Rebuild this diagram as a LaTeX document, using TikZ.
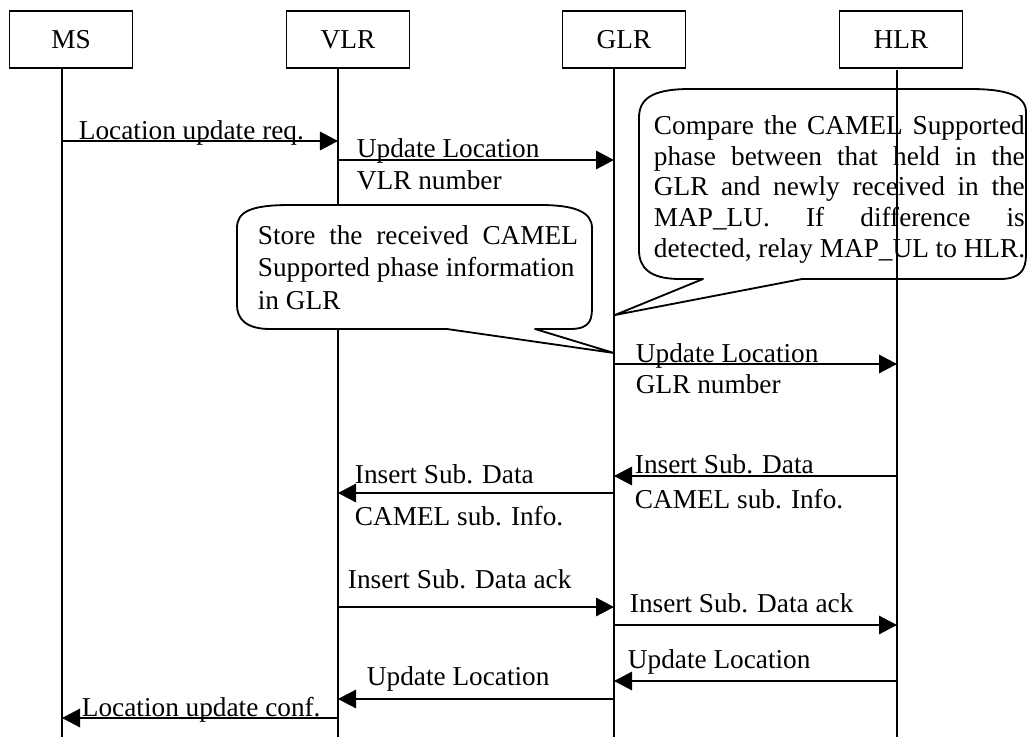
\documentclass[tikz,border=0pt]{standalone}
\usepackage{fontspec}
\setmainfont{Liberation Serif}
\usetikzlibrary{arrows.meta}
\tikzset{
    entity/.style={draw, line width=1.3pt, minimum width=3.075cm, minimum height=1.425cm, inner sep=0},
    msg/.style={line width=1.3pt, -{Triangle[length=0.45cm,width=0.46cm]}},
    lbl/.style={anchor=base west, inner sep=0},
    bubble/.style={line width=1.3pt, line join=round},
    note/.style={anchor=base west, inner sep=0, align=left}
}
\begin{document}
\begin{tikzpicture}[x=0.025cm, y=-0.025cm, line width=1.3pt,
    font=\fontsize{19.4}{21.7}\selectfont]
    \useasboundingbox (0,0) rectangle (1028,737);

    % entita
    \node[entity] (ms)  at (71,39.5)  {MS};
    \node[entity] (vlr) at (348,39.5) {VLR};
    \node[entity] (glr) at (624,39.5) {GLR};
    \node[entity] (hlr) at (901,39.5) {HLR};

    % linee di vita
    \coordinate (msx)  at (62,68);
    \coordinate (vlrx) at (338,68);
    \coordinate (glrx) at (614,68);
    \coordinate (hlrx) at (897,70);
    \draw (msx) -- (msx |- 0,737);
    \draw (vlrx) -- (vlrx |- 0,737);
    \draw (glrx) -- (glrx |- 0,737);
    \draw (hlrx) -- (hlrx |- 0,737);

    % fumetti (ancora sull'ultima riga)
    \draw[bubble] (703,279) -- (615,315) -- (802,279)
        -- (1000,279) .. controls (1020,279) and (1026,270) .. (1026,255)
        -- (1026,112) .. controls (1026,95) and (1005,89) .. (970,89)
        -- (690,89) .. controls (650,89) and (639,100) .. (639,118)
        -- (639,250) .. controls (639,268) and (650,279) .. (680,279)
        -- cycle;
    \node[note, font=\fontsize{19.4}{21.7}\selectfont] (cmp) at (653,257)
        {\makebox[9.27cm][s]{Compare the CAMEL Supported}\\
         \makebox[9.27cm][s]{phase between that held in the}\\
         \makebox[9.27cm][s]{GLR and newly received in the}\\
         \makebox[9.27cm][s]{MAP\_LU. If difference is}\\
         detected, relay MAP\_UL to HLR.};

    \draw[bubble, fill=white] (447,329) -- (614,353) -- (535,329)
        -- (570,329) .. controls (592,329) and (592,318) .. (592,305)
        -- (592,228) .. controls (592,212) and (575,205) .. (540,205)
        -- (290,205) .. controls (250,205) and (237,212) .. (237,228)
        -- (237,305) .. controls (237,318) and (245,329) .. (270,329)
        -- cycle;
    \node[note, font=\fontsize{19.4}{23.1}\selectfont] (store) at (257,309)
        {\makebox[8cm][s]{Store the received CAMEL}\\
         Supported phase information\\
         in GLR};

    % messaggi
    \draw[msg] (msx |- 0,141) -- (vlrx |- 0,141);
    \node[lbl] (lureq) at (78,139) {Location update req.};

    \draw[msg] (vlrx |- 0,160) -- (glrx |- 0,160);
    \node[lbl] (ul1) at (356,157) {Update Location};
    \node[lbl] (vlrnum) at (356,189) {VLR number};

    \draw[msg] (glrx |- 0,364) -- (hlrx |- 0,364);
    \node[lbl] (ul2) at (635,362) {Update Location};
    \node[lbl] (glrnum) at (635,393) {GLR number};

    \draw[msg] (hlrx |- 0,476) -- (glrx |- 0,476);
    \node[lbl] (isd1) at (634,473) {Insert Sub. Data};
    \node[lbl] (info1) at (634,508) {CAMEL sub. Info.};

    \draw[msg] (glrx |- 0,493) -- (vlrx |- 0,493);
    \node[lbl] (isd2) at (354,483) {Insert Sub. Data};
    \node[lbl] (info2) at (354,525) {CAMEL sub. Info.};

    \draw[msg] (vlrx |- 0,607) -- (glrx |- 0,607);
    \node[lbl] (ack1) at (347,588) {Insert Sub. Data ack};

    \draw[msg] (glrx |- 0,625) -- (hlrx |- 0,625);
    \node[lbl] (ack2) at (629,612) {Insert Sub. Data ack};

    \draw[msg] (hlrx |- 0,681) -- (glrx |- 0,681);
    \node[lbl] (ul3) at (627,668) {Update Location};

    \draw[msg] (glrx |- 0,699) -- (vlrx |- 0,699);
    \node[lbl] (ul4) at (366,685) {Update Location};

    \draw[msg] (vlrx |- 0,718) -- (msx |- 0,718);
    \node[lbl] (luconf) at (81,716) {Location update conf.};
\end{tikzpicture}
\end{document}
